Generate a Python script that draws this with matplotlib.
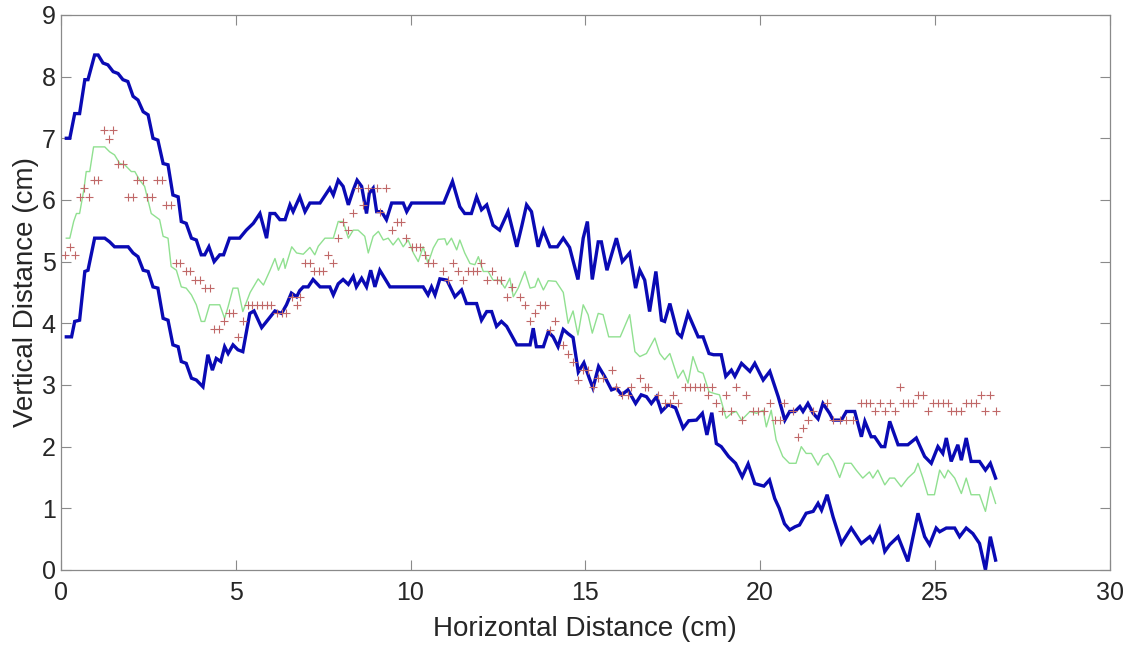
import numpy as np
import matplotlib
matplotlib.use('Agg')
import matplotlib.pyplot as plt

################################################################################
# Data
################################################################################
upper_x = [0.15, 0.25, 0.39, 0.53, 0.68, 0.77, 0.96, 1.06, 1.2, 1.34, 1.49, 1.63,
           1.77, 1.91, 2.06, 2.2, 2.35, 2.49, 2.63, 2.77, 2.92, 3.06, 3.2, 3.35,
           3.44, 3.58, 3.73, 3.87, 4.01, 4.11, 4.23, 4.38, 4.54, 4.65, 4.82, 5.11,
           5.3, 5.5, 5.69, 5.88, 5.98, 6.12, 6.26, 6.41, 6.55, 6.64, 6.83, 6.98,
           7.12, 7.41, 7.69, 7.79, 7.93, 8.07, 8.22, 8.36, 8.47, 8.6, 8.74, 8.82,
           8.93, 9.03, 9.17, 9.31, 9.46, 9.79, 9.89, 10.03, 10.95, 11.2, 11.41,
           11.55, 11.74, 11.89, 12.03, 12.18, 12.36, 12.55, 12.79, 13.04, 13.18,
           13.32, 13.46, 13.65, 13.8, 13.99, 14.2, 14.37, 14.55, 14.79, 14.94,
           15.06, 15.2, 15.37, 15.46, 15.62, 15.89, 16.06, 16.27, 16.44, 16.56,
           16.7, 16.84, 17.02, 17.18, 17.27, 17.42, 17.64, 17.75, 17.94, 18.23,
           18.37, 18.54, 18.67, 18.89, 19.02, 19.18, 19.28, 19.47, 19.71, 19.85,
           20.09, 20.28, 20.52, 20.71, 20.85, 21.0, 21.14, 21.23, 21.37, 21.52,
           21.66, 21.8, 21.99, 22.09, 22.33, 22.47, 22.71, 22.9, 23.0, 23.18,
           23.28, 23.47, 23.57, 23.71, 23.95, 24.23, 24.47, 24.71, 24.9, 25.09,
           25.23, 25.33, 25.47, 25.66, 25.76, 25.9, 26.04, 26.28, 26.45, 26.59,
           26.74]
upper_y = [7.0, 7.0, 7.4, 7.4, 7.95, 7.95, 8.35, 8.35, 8.22, 8.19, 8.08, 8.05,
           7.95, 7.92, 7.68, 7.62, 7.43, 7.38, 7.0, 6.97, 6.59, 6.57, 6.08, 6.05,
           5.65, 5.62, 5.38, 5.35, 5.11, 5.11, 5.24, 5.0, 5.11, 5.11, 5.38, 5.38,
           5.51, 5.62, 5.78, 5.38, 5.78, 5.78, 5.68, 5.68, 5.92, 5.81, 6.05, 5.81,
           5.95, 5.95, 6.19, 6.08, 6.32, 6.22, 5.92, 6.16, 6.32, 6.22, 5.78, 6.11,
           6.19, 5.81, 5.81, 5.68, 5.95, 5.95, 5.81, 5.95, 5.95, 6.3, 5.89,
           5.78, 5.78, 6.05, 5.84, 5.92, 5.59, 5.51, 5.81, 5.24, 5.57,
           5.92, 5.81, 5.24, 5.51, 5.24, 5.24, 5.38, 5.23, 4.71, 5.38,
           5.65, 4.71, 5.32, 5.32, 4.86, 5.38, 5.0, 5.14, 4.57, 4.86,
           4.7, 4.19, 4.84, 4.05, 4.03, 4.32, 3.84, 3.78, 4.16, 3.78,
           3.78, 3.51, 3.49, 3.49, 3.14, 3.24, 3.14, 3.35, 3.22, 3.35,
           3.08, 3.22, 2.81, 2.43, 2.57, 2.57, 2.65, 2.57, 2.7, 2.54,
           2.45, 2.7, 2.54, 2.43, 2.43, 2.57, 2.57, 2.16, 2.41, 2.16,
           2.16, 2.0, 2.0, 2.41, 2.03, 2.03, 2.14, 1.84, 1.73, 2.0,
           1.89, 2.14, 1.76, 2.03, 1.78, 2.14, 1.76, 1.76, 1.62, 1.73,
           1.49]

lower_x = [0.15, 0.3, 0.39, 0.53, 0.68, 0.77, 0.96, 1.25, 1.39, 1.53, 1.92, 2.06,
           2.2, 2.35, 2.49, 2.63, 2.77, 2.92, 3.06, 3.2, 3.35, 3.44, 3.58, 3.73,
           3.87, 4.06, 4.2, 4.33, 4.44, 4.57, 4.68, 4.78, 4.92, 5.06, 5.2, 5.4,
           5.52, 5.74, 6.12, 6.31, 6.45, 6.59, 6.74, 6.83, 6.93, 7.07, 7.21,
           7.41, 7.69, 7.79, 7.93, 8.07, 8.22, 8.36, 8.45, 8.6, 8.74, 8.86, 8.98,
           9.12, 9.41, 10.36, 10.5, 10.6, 10.7, 10.84, 11.04, 11.27, 11.46, 11.6,
           11.89, 12.03, 12.18, 12.32, 12.46, 12.6, 12.75, 13.04, 13.42, 13.51,
           13.6, 13.8, 13.94, 14.08, 14.22, 14.37, 14.51, 14.65, 14.8, 14.96,
           15.12, 15.22, 15.38, 15.55, 15.75, 15.89, 16.04, 16.22, 16.44, 16.6,
           16.75, 16.89, 17.04, 17.18, 17.37, 17.58, 17.8, 17.96, 18.18, 18.35,
           18.48, 18.62, 18.75, 18.89, 19.1, 19.3, 19.49, 19.66, 19.85, 20.11,
           20.27, 20.42, 20.55, 20.7, 20.85, 21.0, 21.13, 21.32, 21.52, 21.66,
           21.76, 21.92, 22.09, 22.33, 22.61, 22.9, 23.14, 23.23, 23.42, 23.57,
           23.71, 23.95, 24.23, 24.52, 24.71, 24.85, 25.04, 25.14, 25.33, 25.57,
           25.71, 25.9, 26.09, 26.28, 26.45, 26.59, 26.74]
lower_y = [3.78, 3.78, 4.03, 4.05, 4.84, 4.86, 5.38, 5.38, 5.32, 5.24, 5.24, 5.14,
           5.08, 4.86, 4.84, 4.59, 4.57, 4.08, 4.05, 3.65, 3.62, 3.38, 3.35, 3.11,
           3.08, 2.97, 3.49, 3.24, 3.43, 3.38, 3.62, 3.51, 3.65, 3.57, 3.54, 4.16,
           4.2, 3.93, 4.2, 4.16, 4.3, 4.49, 4.43, 4.53, 4.59, 4.59, 4.71,
           4.59, 4.59, 4.46, 4.64, 4.71, 4.63, 4.76, 4.59, 4.73, 4.59, 4.86, 4.59,
           4.86, 4.59, 4.59, 4.46, 4.59, 4.46, 4.72, 4.7, 4.43, 4.54, 4.32,
           4.32, 4.05, 4.19, 4.19, 3.95, 4.03, 3.95, 3.65, 3.65, 3.92,
           3.62, 3.62, 3.86, 3.78, 3.62, 3.9, 3.83, 3.77, 3.21, 3.36,
           3.1, 2.95, 3.3, 3.14, 2.92, 2.95, 2.84, 2.92, 2.7, 2.84,
           2.81, 2.7, 2.81, 2.57, 2.68, 2.63, 2.3, 2.42, 2.43, 2.54,
           2.19, 2.55, 2.05, 2.0, 1.84, 1.73, 1.51, 1.72, 1.4, 1.36,
           1.46, 1.16, 1.0, 0.75, 0.65, 0.7, 0.73, 0.92, 0.95, 1.08,
           0.97, 1.22, 0.86, 0.43, 0.68, 0.43, 0.54, 0.46, 0.68, 0.3,
           0.41, 0.54, 0.14, 0.92, 0.54, 0.41, 0.68, 0.62, 0.68, 0.68,
           0.54, 0.68, 0.59, 0.43, 0.0, 0.54, 0.16]

mean_x = [0.15, 0.25, 0.36, 0.44, 0.53, 0.65, 0.72, 0.82, 0.93, 1.25, 1.39, 1.53,
          1.68, 1.82, 2.01, 2.11, 2.25, 2.39, 2.58, 2.82, 2.92, 3.06, 3.15, 3.3,
          3.44, 3.58, 3.73, 3.87, 4.01, 4.11, 4.25, 4.54, 4.68, 4.78, 4.92, 5.06,
          5.2, 5.41, 5.64, 5.79, 5.98, 6.12, 6.22, 6.36, 6.41, 6.6, 6.74, 6.93,
          7.12, 7.26, 7.36, 7.55, 7.79, 7.93, 8.07, 8.22, 8.36, 8.5, 8.69, 8.79,
          8.93, 9.08, 9.22, 9.36, 9.5, 9.65, 9.79, 9.93, 10.08, 10.22, 10.36,
          10.5, 10.65, 10.79, 10.98, 11.04, 11.17, 11.32, 11.41, 11.55, 11.7,
          11.84, 11.94, 12.08, 12.22, 12.36, 12.55, 12.7, 12.84, 12.94, 13.08,
          13.27, 13.42, 13.56, 13.65, 13.8, 13.94, 14.16, 14.37, 14.51, 14.65,
          14.79, 14.94, 15.08, 15.2, 15.37, 15.51, 15.67, 16.0, 16.27, 16.42,
          16.56, 16.75, 16.99, 17.13, 17.27, 17.42, 17.65, 17.8, 17.94, 18.08,
          18.23, 18.37, 18.54, 18.7, 18.84, 19.03, 19.18, 19.32, 19.47, 19.71,
          19.9, 20.09, 20.18, 20.32, 20.46, 20.65, 20.84, 21.03, 21.18, 21.32,
          21.47, 21.66, 21.8, 21.94, 22.09, 22.28, 22.42, 22.61, 22.75, 22.94,
          23.13, 23.23, 23.37, 23.57, 23.71, 23.85, 24.04, 24.23, 24.42, 24.52,
          24.66, 24.8, 24.99, 25.14, 25.28, 25.38, 25.57, 25.76, 25.9, 26.04,
          26.28, 26.45, 26.59, 26.74]
mean_y = [5.38, 5.38, 5.65, 5.78, 5.78, 6.16, 6.46, 6.46, 6.86, 6.86, 6.78, 6.73,
          6.59, 6.57, 6.46, 6.46, 6.32, 6.22, 5.78, 5.68, 5.41, 5.38, 4.92, 4.86,
          4.59, 4.57, 4.46, 4.3, 4.03, 4.03, 4.3, 4.3, 4.08, 4.27, 4.57, 4.57,
          4.19, 4.5, 4.72, 4.62, 4.86, 5.05, 4.86, 5.05, 4.89, 5.24, 5.14, 5.12,
          5.23, 5.11, 5.25, 5.38, 5.38, 5.65, 5.65, 5.38, 5.51, 5.51, 5.41, 5.14,
          5.41, 5.49, 5.35, 5.38, 5.27, 5.38, 5.24, 5.35, 5.14, 5.0, 5.24,
          4.97, 5.22, 5.36, 5.37, 5.27, 5.38, 5.19, 5.35, 5.14, 4.97,
          4.95, 5.08, 4.84, 4.84, 4.7, 4.7, 4.57, 4.73, 4.43, 4.57,
          4.84, 4.57, 4.59, 4.73, 4.54, 4.69, 4.68, 4.5, 4.0, 4.2,
          3.81, 4.3, 4.14, 3.84, 4.16, 4.14, 3.78, 3.78, 4.14, 3.54,
          3.46, 3.51, 3.76, 3.51, 3.41, 3.51, 3.11, 3.24, 3.03, 3.46,
          3.22, 3.19, 2.89, 2.86, 2.84, 2.46, 2.54, 2.57, 2.43, 2.57,
          2.54, 2.59, 2.32, 2.59, 2.11, 1.84, 1.73, 1.73, 2.0, 1.89,
          1.89, 1.7, 1.85, 1.89, 1.76, 1.5, 1.73, 1.73, 1.62, 1.49,
          1.59, 1.49, 1.62, 1.38, 1.49, 1.49, 1.35, 1.49, 1.59, 1.73,
          1.49, 1.22, 1.22, 1.62, 1.49, 1.62, 1.49, 1.24, 1.49, 1.22,
          1.22, 0.95, 1.35, 1.08]

obs_x = [0.1, 0.25, 0.39, 0.53, 0.66, 0.79, 0.93, 1.07, 1.22, 1.36, 1.49, 1.63,
         1.77, 1.92, 2.06, 2.18, 2.33, 2.47, 2.61, 2.75, 2.89, 3.01, 3.15, 3.28,
         3.41, 3.57, 3.7, 3.82, 3.97, 4.11, 4.25, 4.38, 4.51, 4.65, 4.8, 4.93,
         5.06, 5.2, 5.35, 5.47, 5.6, 5.74, 5.88, 6.02, 6.17, 6.31, 6.45, 6.6,
         6.74, 6.84, 6.98, 7.12, 7.24, 7.38, 7.5, 7.65, 7.79, 7.93, 8.07, 8.22,
         8.36, 8.5, 8.65, 8.79, 9.03, 9.12, 9.31, 9.46, 9.6, 9.74, 9.87, 10.03,
         10.17, 10.28, 10.41, 10.5, 10.65, 10.93, 11.07, 11.22, 11.36, 11.51,
         11.65, 11.79, 11.89, 12.03, 12.18, 12.32, 12.46, 12.6, 12.75, 12.89,
         13.13, 13.27, 13.41, 13.56, 13.7, 13.84, 13.98, 14.13, 14.37, 14.51,
         14.65, 14.8, 14.94, 15.08, 15.22, 15.37, 15.51, 15.75, 15.89, 16.04,
         16.22, 16.32, 16.56, 16.7, 16.8, 17.08, 17.27, 17.42, 17.51, 17.65,
         17.85, 17.99, 18.13, 18.27, 18.39, 18.51, 18.63, 18.75, 18.92, 19.04,
         19.18, 19.32, 19.47, 19.61, 19.8, 19.94, 20.11, 20.28, 20.44, 20.56,
         20.68, 20.94, 21.09, 21.23, 21.37, 21.52, 21.92, 22.09, 22.28, 22.47,
         22.66, 22.9, 23.04, 23.16, 23.28, 23.42, 23.57, 23.71, 23.85, 24.0,
         24.09, 24.23, 24.38, 24.52, 24.66, 24.8, 24.95, 25.09, 25.23, 25.38,
         25.47, 25.61, 25.76, 25.9, 26.04, 26.19, 26.33, 26.45, 26.59, 26.74]
obs_y = [5.11, 5.24, 5.11, 6.05, 6.19, 6.05, 6.32, 6.32, 7.14, 6.99, 7.14, 6.58,
         6.58, 6.05, 6.05, 6.32, 6.32, 6.05, 6.05, 6.32, 6.32, 5.92, 5.92, 4.97,
         4.97, 4.84, 4.84, 4.7, 4.7, 4.57, 4.57, 3.9, 3.9, 4.04, 4.16, 4.16,
         3.78, 4.03, 4.3, 4.3, 4.3, 4.3, 4.3, 4.3, 4.16, 4.16, 4.16, 4.43,
         4.3, 4.43, 4.97, 4.97, 4.84, 4.84, 4.84, 5.11, 4.97, 5.38, 5.65, 5.51,
         5.78, 6.19, 5.92, 6.19, 6.19, 5.81, 6.19, 5.51, 5.65, 5.65, 5.38, 5.24,
         5.24, 5.24, 5.11, 4.97, 4.97, 4.84, 4.7, 4.97, 4.84, 4.7,
         4.84, 4.84, 4.84, 4.97, 4.7, 4.84, 4.7, 4.7, 4.43, 4.59,
         4.43, 4.3, 4.03, 4.16, 4.3, 4.3, 3.89, 4.03, 3.65, 3.51,
         3.38, 3.08, 3.24, 3.24, 2.97, 3.11, 3.11, 3.24, 2.97, 2.84,
         2.84, 2.97, 3.11, 2.97, 2.97, 2.84, 2.7, 2.7, 2.84, 2.7,
         2.97, 2.97, 2.97, 2.97, 2.97, 2.84, 2.97, 2.7, 2.57, 2.84,
         2.57, 2.97, 2.43, 2.84, 2.57, 2.57, 2.57, 2.7, 2.43, 2.43,
         2.7, 2.57, 2.16, 2.3, 2.43, 2.57, 2.7, 2.43, 2.43, 2.43,
         2.43, 2.7, 2.7, 2.7, 2.57, 2.7, 2.57, 2.7, 2.57, 2.97,
         2.7, 2.7, 2.7, 2.84, 2.84, 2.57, 2.7, 2.7, 2.7, 2.7,
         2.57, 2.57, 2.57, 2.7, 2.7, 2.7, 2.84, 2.57, 2.84, 2.57]

X_TICKS = [0, 5, 10, 15, 20, 25, 30]
Y_TICKS = [0, 1, 2, 3, 4, 5, 6, 7, 8, 9]

################################################################################
# Plot
################################################################################
plt.rcParams['font.family'] = ['Liberation Sans', 'DejaVu Sans']
TXT = '#262626'
AX_COL = '#8a8a8a'

fig = plt.figure(figsize=(11.31, 6.48), dpi=100)
ax = fig.add_axes([0.054, 0.1204, 0.927, 0.8566])

ax.plot(upper_x, upper_y, color='#0a0ab4', linewidth=2.4, solid_joinstyle='miter')
ax.plot(lower_x, lower_y, color='#0a0ab4', linewidth=2.4, solid_joinstyle='miter')
ax.plot(mean_x, mean_y, color='#90e090', linewidth=1.0)
ax.plot(obs_x, obs_y, linestyle='none', marker='+', markersize=5.5,
        markeredgewidth=0.8, color='#c06868')

ax.set_xlim(0, 30)
ax.set_ylim(0, 9)
ax.set_xticks(X_TICKS)
ax.set_yticks(Y_TICKS)
ax.tick_params(direction='in', length=7, width=0.8, color=AX_COL,
               labelsize=18, labelcolor=TXT, top=True, right=True)
ax.tick_params(axis='x', pad=8)
ax.tick_params(axis='y', pad=4)
for sp in ax.spines.values():
    sp.set_color(AX_COL)
    sp.set_linewidth(0.9)

ax.set_xlabel('Horizontal Distance (cm)', fontsize=20, color=TXT, labelpad=8)
ax.set_ylabel('Vertical Distance (cm)', fontsize=20, color=TXT, labelpad=2)

fig.savefig('out.png', dpi=100)
plt.close(fig)
